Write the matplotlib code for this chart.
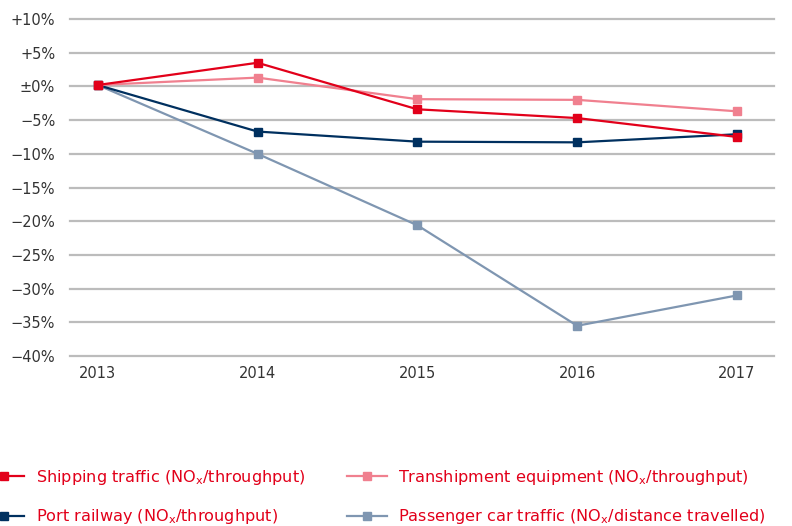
import matplotlib
matplotlib.use("Agg")
import matplotlib.pyplot as plt
from matplotlib.ticker import FixedLocator

# data (change vs. 2013, in %)
years = [2013, 2014, 2015, 2016, 2017]
shipping = [0.2, 3.5, -3.4, -4.7, -7.5]
transhipment = [0.2, 1.3, -1.9, -2.0, -3.7]
railway = [0.2, -6.7, -8.2, -8.3, -7.1]
passenger = [0.2, -10.0, -20.6, -35.5, -31.0]

ytick_vals = [10, 5, 0, -5, -10, -15, -20, -25, -30, -35, -40]
ytick_labels = ["+10%", "+5%", "\u00b10%", "\u22125%", "\u221210%", "\u221215%",
                "\u221220%", "\u221225%", "\u221230%", "\u221235%", "\u221240%"]

labels = {
    "shipping": r"Shipping traffic (NO$_\mathregular{x}$/throughput)",
    "transhipment": r"Transhipment equipment (NO$_\mathregular{x}$/throughput)",
    "railway": r"Port railway (NO$_\mathregular{x}$/throughput)",
    "passenger": r"Passenger car traffic (NO$_\mathregular{x}$/distance travelled)",
}

RED = "#e2001a"
PINK = "#f0808f"
NAVY = "#00305f"
GREYBLUE = "#7f96b1"

fig = plt.figure(figsize=(7.92, 5.26), dpi=100)
ax = fig.add_axes([0.089, 0.323, 0.888, 0.641])

style = dict(marker="s", markersize=6, linewidth=1.6, clip_on=False)
l_pass, = ax.plot(years, passenger, color=GREYBLUE, label=labels["passenger"], zorder=3, **style)
l_rail, = ax.plot(years, railway, color=NAVY, label=labels["railway"], zorder=4, **style)
l_tran, = ax.plot(years, transhipment, color=PINK, label=labels["transhipment"], zorder=5, **style)
l_ship, = ax.plot(years, shipping, color=RED, label=labels["shipping"], zorder=6, **style)

ax.set_ylim(-40, 10)
ax.set_xlim(2013 - 0.17, 2017 + 0.23)
ax.yaxis.set_major_locator(FixedLocator(ytick_vals))
ax.set_yticklabels(ytick_labels)
ax.set_xticks(years)
ax.set_xticklabels([str(y) for y in years])

ax.grid(axis="y", color="#bcbcbc", linewidth=1.6, zorder=0)
ax.set_axisbelow(True)
for g in ax.yaxis.get_gridlines():
    g.set_clip_on(False)
for s in ax.spines.values():
    s.set_visible(False)
ax.tick_params(axis="both", length=0, labelsize=10.5, colors="#333333")
ax.tick_params(axis="y", pad=11)
ax.tick_params(axis="x", pad=7)

leg = fig.legend(handles=[l_ship, l_rail, l_tran, l_pass],
                 labels=[labels["shipping"], labels["railway"],
                         labels["transhipment"], labels["passenger"]],
                 loc="upper left", bbox_to_anchor=(-0.020, 0.111), ncol=2,
                 frameon=False, fontsize=11.6, labelcolor=RED,
                 handlelength=2.5, handletextpad=0.7, columnspacing=2.6,
                 labelspacing=1.28, borderaxespad=0, borderpad=0)
for h in leg.legend_handles:
    h.set_markersize(6)

fig.savefig("out.png", dpi=100, facecolor="white")
